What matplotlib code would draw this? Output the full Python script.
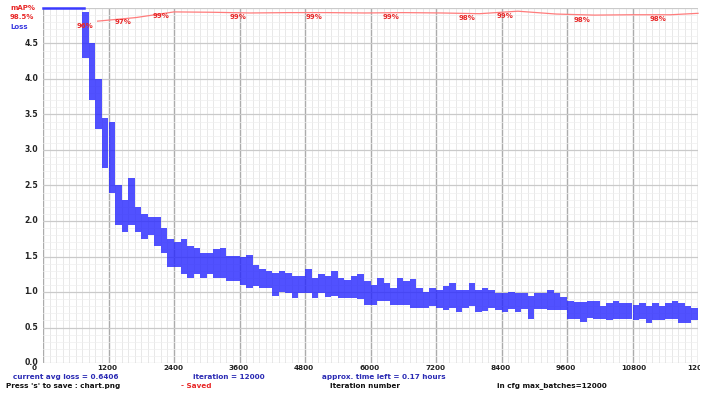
import numpy as np
import matplotlib
matplotlib.use("Agg")
import matplotlib.pyplot as plt
from matplotlib.transforms import blended_transform_factory, offset_copy, ScaledTranslation
from matplotlib.patches import Rectangle

loss_iter = np.arange(780, 12000, 120)
loss_low = [4.30, 3.70, 3.30, 2.75, 2.40, 1.95, 1.85, 1.95, 1.85, 1.75,
            1.80, 1.65, 1.55, 1.35, 1.35, 1.25, 1.20, 1.25, 1.20, 1.25,
            1.20, 1.20, 1.15, 1.15, 1.10, 1.05, 1.08, 1.05, 1.05, 0.95,
            1.00, 0.98, 0.92, 0.98, 0.98, 0.92, 0.98, 0.93, 0.95, 0.92,
            0.92, 0.92, 0.90, 0.82, 0.82, 0.88, 0.87, 0.82, 0.82, 0.82,
            0.78, 0.78, 0.78, 0.80, 0.77, 0.74, 0.77, 0.72, 0.77, 0.80,
            0.72, 0.73, 0.77, 0.75, 0.72, 0.76, 0.72, 0.76, 0.62, 0.76,
            0.76, 0.75, 0.74, 0.74, 0.62, 0.62, 0.58, 0.63, 0.62, 0.62,
            0.60, 0.62, 0.62, 0.62, 0.60, 0.62, 0.57, 0.60, 0.60, 0.62,
            0.62, 0.57, 0.57, 0.60]
loss_high = [4.95, 4.50, 4.00, 3.45, 3.40, 2.50, 2.30, 2.60, 2.20, 2.10,
             2.05, 2.05, 1.90, 1.75, 1.70, 1.75, 1.65, 1.62, 1.55, 1.55,
             1.60, 1.62, 1.50, 1.50, 1.50, 1.52, 1.38, 1.33, 1.30, 1.27,
             1.30, 1.27, 1.22, 1.22, 1.33, 1.20, 1.25, 1.22, 1.30, 1.20,
             1.17, 1.22, 1.25, 1.15, 1.10, 1.20, 1.12, 1.06, 1.20, 1.15,
             1.18, 1.05, 1.00, 1.05, 1.03, 1.08, 1.12, 1.03, 1.03, 1.12,
             1.03, 1.05, 1.03, 0.98, 0.98, 1.00, 0.98, 0.98, 0.94, 0.98,
             0.98, 1.03, 0.98, 0.93, 0.88, 0.86, 0.86, 0.88, 0.88, 0.80,
             0.84, 0.88, 0.84, 0.85, 0.82, 0.84, 0.80, 0.84, 0.80, 0.84,
             0.88, 0.84, 0.80, 0.78]

# before ~760 iterations the loss is above the chart and sits on the top edge
clip_iter = [0, 760]
clip_loss = [5.0, 5.0]

# mAP checks (percent)
map_iter = [1000, 1700, 2400, 3100, 3800, 4500, 5200, 5900, 6600, 7300,
            8000, 8700, 9400, 10100, 10800, 11500, 12000]
map_pct = [96.3, 97.3, 98.9, 98.8, 98.6, 98.7, 98.7, 98.6, 98.7, 98.6,
           98.4, 99.1, 98.3, 98.0, 98.1, 98.1, 98.5]
map_label_iter = [1000, 1700, 2400, 3800, 5200, 6600, 8000, 8700, 10100, 11500]

x_ticks = np.arange(0, 12001, 1200)
y_ticks = np.arange(0, 5.01, 0.5)

avg_loss = 0.6406
max_batches = 12000
hours_left = 0.17

font = ['DejaVu Sans']
blue_txt = '#2b2bb4'
red_txt = '#e82828'
fs = 5.2

fig = plt.figure(figsize=(7.08, 3.96), dpi=100)
ax = fig.add_axes([43 / 708, 1 - 363 / 396, 655 / 708, 355 / 396])
ax.set_xlim(0, max_batches)
ax.set_ylim(0, 5)
for s in ax.spines.values():
    s.set_visible(False)

# grid like the darknet chart
ax.set_xticks(x_ticks)
ax.set_xticks(np.arange(0, 12001, 120), minor=True)
ax.set_yticks(y_ticks)
ax.set_yticks(np.arange(0, 5.01, 0.1), minor=True)
ax.xaxis.grid(True, which='major', color='#acacac', lw=1.0)
ax.xaxis.grid(True, which='minor', color='#e4e4e4', lw=0.6)
ax.yaxis.grid(True, which='major', color='#cacaca', lw=0.9)
ax.yaxis.grid(True, which='minor', color='#efefef', lw=0.5)
ax.set_axisbelow(True)
ax.tick_params(which='both', length=0)
ax.set_xticklabels([])
ax.set_yticklabels([f"{v:.1f}" if v < 4.99 else "" for v in y_ticks],
                   family=font, fontweight='bold', fontsize=5.6, color='#222222')
ax.tick_params(axis='y', pad=3.5)
for lab in ax.get_yticklabels():
    lab.set_transform(lab.get_transform() + ScaledTranslation(0, 1.2 / 100, fig.dpi_scale_trans))

# x labels sit left of their grid line, last one cut at the border
trans = blended_transform_factory(ax.transData, ax.transAxes)
clip = Rectangle((0, 0), 700 / 708, 1, transform=fig.transFigure)
for t in x_ticks:
    txt = ax.text(t, 0, f"{t:d}", transform=offset_copy(trans, fig=fig, x=-11, y=-1.5, units='dots'),
                  ha='left', va='top', family=font, fontweight='bold', fontsize=fs,
                  color='#222222')
    txt.set_clip_path(clip)
    txt.set_clip_on(True)

# loss dots
ax.bar(loss_iter, np.array(loss_high) - np.array(loss_low), bottom=loss_low, width=120,
       color='#2626ff', linewidth=0, alpha=0.8, zorder=3)
ax.plot(clip_iter, clip_loss, color='#3a3aff', lw=1.8, clip_on=False, zorder=3)

# mAP line on a 0-100 % scale
ax2 = ax.twinx()
ax2.set_ylim(0, 100)
ax2.axis('off')
ax2.plot(map_iter, map_pct, color='#ff7c7c', lw=0.9, clip_on=False)
for it, v in zip(map_iter, map_pct):
    if it in map_label_iter:
        ax2.annotate(f"{v:2.0f}%", (it, v), xytext=(-21 * 0.72, -4.5 * 0.72),
                     textcoords='offset points', ha='left', va='center',
                     family=font, fontweight='bold', fontsize=5.0, color=red_txt)

# header texts
fig.text(10 / 708, 1 - 8.5 / 396, "mAP%", family=font, fontweight='bold', fontsize=5.0,
         color=red_txt, va='center')
fig.text(10 / 708, 1 - 17 / 396, f"{map_pct[-1]:.1f}%", family=font, fontweight='bold',
         fontsize=5.0, color=red_txt, va='center')
fig.text(10 / 708, 1 - 27 / 396, "Loss", family=font, fontweight='bold', fontsize=5.0,
         color='#3a3ae0', va='center')

# status lines under the chart
y1 = 1 - 377 / 396
y2 = 1 - 385.6 / 396
fig.text(13 / 708, y1, f"current avg loss = {avg_loss:.4f}", family=font, fontweight='bold',
         fontsize=fs, color=blue_txt, va='center')
fig.text(193 / 708, y1, f"iteration = {max_batches}", family=font, fontweight='bold',
         fontsize=fs, color=blue_txt, va='center')
fig.text(322 / 708, y1, f"approx. time left = {hours_left:.2f} hours", family=font,
         fontweight='bold', fontsize=fs, color=blue_txt, va='center')
fig.text(6 / 708, y2, "Press 's' to save : chart.png", family=font,
         fontweight='bold', fontsize=fs, color='#111111', va='center')
fig.text(181 / 708, y2, "- Saved", family=font, fontweight='bold',
         fontsize=fs, color=red_txt, va='center')
fig.text(330 / 708, y2, "Iteration number", family=font, fontweight='bold',
         fontsize=fs, color='#111111', va='center')
fig.text(497 / 708, y2, f"in cfg max_batches={max_batches}", family=font,
         fontweight='bold', fontsize=fs, color='#111111', va='center')

fig.savefig("out.png", dpi=100)
